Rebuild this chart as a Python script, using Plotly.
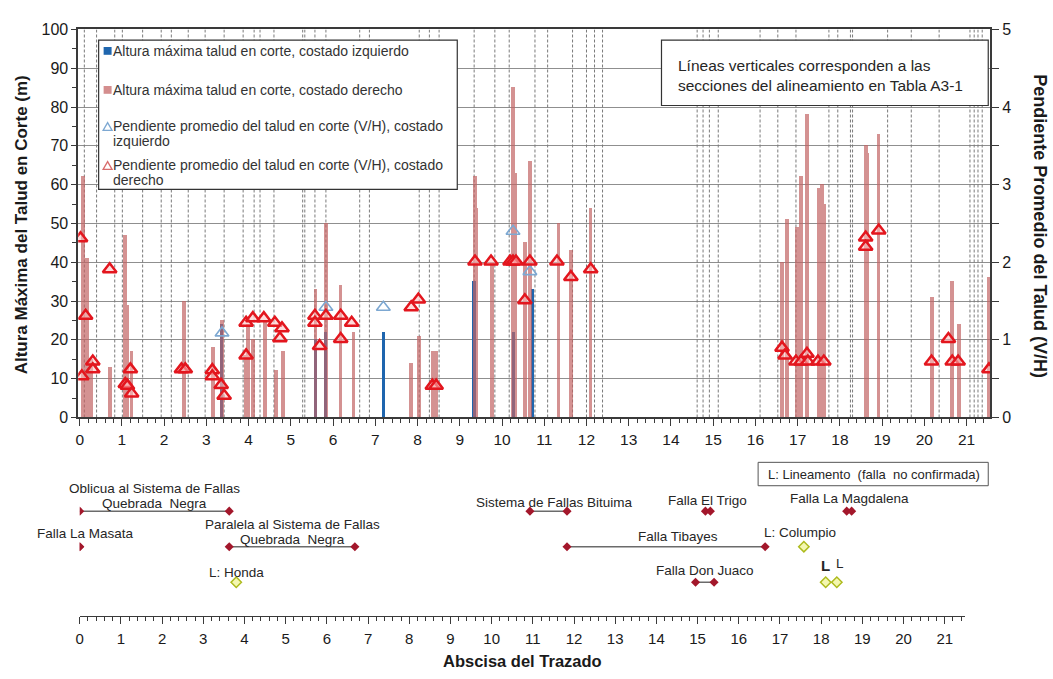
import plotly.graph_objects as go

W, H = 1053, 679
FONT = "Liberation Sans, Arial, sans-serif"
TXT = "#262626"

# Alignment section boundaries (km)
sections = [0.11, 0.40, 0.83, 1.01, 1.49, 1.93, 2.17, 2.57, 2.97, 3.42, 3.87, 4.13, 4.27,
            4.60, 5.28, 5.33, 5.57, 5.83, 6.63, 6.86, 8.04, 8.28, 8.51, 9.34, 9.83, 10.17,
            10.78, 11.08, 11.67, 12.00, 12.19, 12.38, 14.62, 14.76, 14.91, 15.12, 16.11,
            16.53, 16.96, 17.74, 17.95, 18.25, 18.30, 19.13, 19.69, 20.35, 21.08, 21.18,
            21.27, 21.37]

# Maximum cut height, right side (m)
right_x = [0.09, 0.17, 0.28, 0.73, 1.08, 1.13, 1.23, 2.48, 3.16, 3.37, 3.94, 3.99, 4.10,
           4.39, 4.65, 4.81, 5.59, 5.83, 6.18, 6.49, 7.85, 8.04, 8.37, 8.44, 9.36, 9.39,
           9.76, 10.26, 10.31, 10.54, 10.66, 11.34, 11.63, 12.10, 16.63, 16.75, 16.98,
           17.08, 17.22, 17.24, 17.50, 17.59, 17.62, 18.63, 18.66, 18.92, 20.19, 20.66,
           20.83, 21.53]
right_h = [62, 41, 15, 13, 47, 29, 17, 30, 18, 25, 16, 24, 20, 25, 12, 17, 33, 50, 34, 22,
           14, 21, 17, 17, 62, 54, 40, 85, 63, 45, 66, 50, 43, 54, 40, 51, 49, 62, 78, 73,
           59, 60, 55, 70, 68, 73, 31, 35, 24, 36]

# Maximum cut height, left side (m)
left_x = [3.37, 5.59, 5.83, 7.19, 9.34, 10.28, 10.73]
left_h = [24, 20, 22, 22, 35, 22, 33]

# Average cut slope (V/H), right side
slope_r_x = [0.02, 0.14, 0.31, 0.31, 0.05, 0.71, 1.08, 1.13, 1.20, 1.23, 2.41, 2.50, 3.14,
             3.14, 3.35, 3.42, 3.94, 3.94, 4.10, 4.36, 4.62, 4.79, 4.74, 5.57, 5.57, 5.68,
             5.83, 6.18, 6.18, 6.44, 7.85, 8.02, 8.35, 8.44, 9.36, 9.74, 10.19, 10.26,
             10.33, 10.66, 10.54, 11.30, 11.63, 12.10, 16.63, 16.70, 16.96, 17.08, 17.22,
             17.24, 17.48, 17.62, 18.61, 18.61, 18.92, 20.17, 20.57, 20.66, 20.80, 21.53]
slope_r_v = [2.31, 1.31, 0.72, 0.62, 0.53, 1.91, 0.43, 0.41, 0.62, 0.31, 0.62, 0.62, 0.61,
             0.53, 0.42, 0.28, 0.80, 1.22, 1.28, 1.28, 1.22, 1.15, 1.02, 1.31, 1.22, 0.92,
             1.31, 1.31, 1.01, 1.22, 1.42, 1.52, 0.41, 0.41, 2.01, 2.01, 2.01, 2.01,
             2.01, 2.01, 1.51, 2.01, 1.81, 1.91, 0.90, 0.80, 0.72, 0.72, 0.82,
             0.72, 0.72, 0.72, 2.32, 2.20, 2.41, 0.72, 1.01, 0.72, 0.72, 0.62]

# Average cut slope (V/H), left side
slope_l_x = [3.37, 5.83, 7.19, 10.26, 10.66]
slope_l_v = [1.09, 1.42, 1.42, 2.40, 1.88]

# Faults crossing the alignment (km) and display row
fault_names = ["Falla La Masata", "Oblicua al Sistema de Fallas<br>Quebrada  Negra",
               "Paralela al Sistema de Fallas<br>Quebrada  Negra", "Sistema de Fallas Bituima",
               "Falla El Trigo", "Falla La Magdalena", "Falla Tibayes", "Falla Don Juaco"]
fault_start = [0.0, 0.0, 3.63, 10.93, 15.19, 18.62, 11.83, 14.95]
fault_end = [0.0, 3.63, 6.68, 11.83, 15.31, 18.74, 16.64, 15.40]
fault_row = [2, 1, 2, 1, 1, 1, 2, 3]

# Lineaments (unconfirmed faults)
lin_names = ["L: Honda", "L: Columpio", "L", "L"]
lin_x = [3.80, 17.58, 18.11, 18.38]
lin_row = [3, 2, 3, 3]

xticks = list(range(0, 22))


def PX(x):
    return x / W


def PY(y):
    return 1 - y / H


fig = go.Figure()

# Cut heights
fig.add_trace(go.Bar(x=left_x, y=left_h, width=0.075, marker=dict(color="#1F66AE", line_width=0),
                     xaxis="x", yaxis="y", showlegend=False))
fig.add_trace(go.Bar(x=right_x, y=right_h, width=0.09,
                     marker=dict(color="#C26464", line_width=0), opacity=0.7,
                     xaxis="x", yaxis="y", showlegend=False))

# Slopes on the secondary axis
fig.add_trace(go.Scatter(x=slope_l_x, y=slope_l_v, mode="markers", xaxis="x", yaxis="y2",
                         marker=dict(symbol="triangle-up-open", size=12, color="#7DA8D2",
                                     line=dict(width=1.6)),
                         showlegend=False))
fig.add_trace(go.Scatter(x=slope_r_x, y=slope_r_v, mode="markers", xaxis="x", yaxis="y2",
                         marker=dict(symbol="triangle-up", size=12, color="rgba(255,190,190,0.55)",
                                     line=dict(color="#E3161E", width=2.5)),
                         showlegend=False))

# Faults (lower panel)
for name, s, e, r in zip(fault_names, fault_start, fault_end, fault_row):
    fig.add_trace(go.Scatter(x=[s, e], y=[r, r], mode="lines+markers", xaxis="x2", yaxis="y3",
                             line=dict(color="#6b6b6b", width=1.5),
                             marker=dict(symbol="diamond", size=7, color="#A3172B"),
                             showlegend=False, hoverinfo="text", text=[name, name]))
fig.add_trace(go.Scatter(x=lin_x, y=lin_row, mode="markers", xaxis="x2", yaxis="y3",
                         marker=dict(symbol="diamond", size=8, color="#F4F7B0",
                                     line=dict(color="#AEBB1E", width=1.5)),
                         showlegend=False, text=lin_names, hoverinfo="text"))

shapes = []
# Section boundary lines
for s in sections:
    shapes.append(dict(type="line", xref="x", yref="y", x0=s, x1=s, y0=0, y1=100,
                       line=dict(color="#7a7a7a", width=1, dash="3px,2px"), layer="between"))

annotations = []


def text_lines(text, x, y, xref, yref, dx, dy, size, spacing, xanchor="center", color=TXT):
    """Place each line of a multi-line label separately, with a fixed line spacing (px)."""
    parts = text.split("<br>")
    n = len(parts)
    for i, p in enumerate(parts):
        off = (n - 1) / 2 * spacing - i * spacing
        annotations.append(dict(x=x, y=y, xref=xref, yref=yref, text=p, showarrow=False,
                                xshift=dx, yshift=dy + off, xanchor=xanchor, yanchor="middle",
                                font=dict(family=FONT, size=size, color=color)))


# Fault labels
fault_label_dx = [6, 0, 0, 6, 0, 0, 12, 0]
fault_label_dy = [13, 15, 15, 9, 11, 13, 10, 12]
for name, s, e, r, dx, dy in zip(fault_names, fault_start, fault_end, fault_row,
                                 fault_label_dx, fault_label_dy):
    text_lines(name, (s + e) / 2, r, "x2", "y3", dx, dy, 13.5, 15)

lin_label_dx = [0, -4, 0, 3]
lin_label_dy = [10, 14, 17, 19]
lin_bold = [False, False, True, False]
for name, x, r, dx, dy, b in zip(lin_names, lin_x, lin_row, lin_label_dx, lin_label_dy, lin_bold):
    annotations.append(dict(x=x, y=r, xref="x2", yref="y3", text=f"<b>{name}</b>" if b else name,
                            showarrow=False, xshift=dx, yshift=dy, yanchor="middle",
                            xanchor="center",
                            font=dict(family=FONT, size=15 if b else 13.5, color=TXT)))

# Lineament key box
shapes.append(dict(type="rect", xref="paper", yref="paper", x0=PX(757), x1=PX(988),
                   y0=PY(490), y1=PY(466), line=dict(color="#555", width=1), fillcolor="white"))
annotations.append(dict(x=PX(873), y=PY(478), xref="paper", yref="paper",
                        xanchor="center", yanchor="middle",
                        text="L: Lineamento  (falla  no confirmada)", showarrow=False,
                        font=dict(family=FONT, size=13, color=TXT)))

# Note box
shapes.append(dict(type="rect", xref="paper", yref="paper", x0=PX(660), x1=PX(988),
                   y0=PY(100), y1=PY(33), line=dict(color="#333", width=1.2), fillcolor="white"))
text_lines("Líneas verticales corresponden a las<br>secciones del alineamiento en Tabla A3-1",
           PX(675), PY(69), "paper", "paper", 0, 0, 15.5, 20, xanchor="left")

# Legend box
shapes.append(dict(type="rect", xref="paper", yref="paper", x0=PX(95), x1=PX(455),
                   y0=PY(186), y1=PY(33), line=dict(color="#333", width=1.2), fillcolor="white"))
shapes.append(dict(type="rect", xref="paper", yref="paper", x0=PX(100), x1=PX(108),
                   y0=PY(48), y1=PY(40), line_width=0, fillcolor="#1F66AE"))
shapes.append(dict(type="rect", xref="paper", yref="paper", x0=PX(100), x1=PX(108),
                   y0=PY(88), y1=PY(80), line_width=0, fillcolor="#D48E8E"))


def tri(cx, cy, color, w):
    return dict(type="path", xref="paper", yref="paper",
                path=(f"M{PX(cx - 4.5):.5f},{PY(cy + 3.5):.5f} L{PX(cx + 4.5):.5f},{PY(cy + 3.5):.5f} "
                      f"L{PX(cx):.5f},{PY(cy - 4.5):.5f} Z"),
                line=dict(color=color, width=w), fillcolor="white")


shapes.append(tri(104, 122, "#7DA8D2", 1.3))
shapes.append(tri(104, 162, "#D86C6C", 1.3))
legend_items = [("Altura máxima talud en corte, costado izquierdo", 44),
                ("Altura máxima talud en corte, costado derecho", 84),
                ("Pendiente promedio del talud en corte (V/H), costado<br>izquierdo", 128.5),
                ("Pendiente promedio del talud en corte (V/H), costado<br>derecho", 168.5)]
for t, y in legend_items:
    text_lines(t, PX(107), PY(y), "paper", "paper", 0, 0, 14, 15, xanchor="left", color="#333")

# Axis titles
annotations.append(dict(x=PX(18), y=PY(222), xref="paper", yref="paper", textangle=-90,
                        xanchor="center", yanchor="middle",
                        showarrow=False, text="<b>Altura Máxima del Talud en Corte (m)</b>",
                        font=dict(family=FONT, size=17, color="#1a1a1a")))
annotations.append(dict(x=PX(1040), y=PY(224), xref="paper", yref="paper", textangle=90,
                        xanchor="center", yanchor="middle",
                        showarrow=False, text="<b>Pendiente Promedio del Talud (V/H)</b>",
                        font=dict(family=FONT, size=18, color="#1a1a1a")))
annotations.append(dict(x=PX(520), y=PY(670), xref="paper", yref="paper",
                        xanchor="center", yanchor="middle", borderpad=0,
                        showarrow=False, text="<b>Abscisa del Trazado</b>",
                        font=dict(family=FONT, size=16.5, color="#1a1a1a")))

axis_line = dict(showline=True, linecolor="#3a3a3a", linewidth=1.5, zeroline=False,
                 ticks="outside", tickcolor="#3a3a3a")

fig.update_layout(
    width=W, height=H, margin=dict(l=0, r=0, t=0, b=0),
    paper_bgcolor="white", plot_bgcolor="white",
    barmode="overlay", bargap=0,
    font=dict(family=FONT, color=TXT),
    xaxis=dict(domain=[74.5 / W, 990 / W], range=[-0.035, 21.56], anchor="y",
               tickvals=xticks, ticklen=7, tickfont=dict(size=15.5, color="#1a1a1a"),
               mirror=True, showgrid=False,
               minor=dict(dtick=0.2, tick0=0, ticks="outside", ticklen=4, tickcolor="#3a3a3a"),
               **axis_line),
    yaxis=dict(domain=[PY(420), PY(22)], range=[0, 100], dtick=10, ticklen=5,
               tickfont=dict(size=16, color="#1a1a1a"), showgrid=True, gridcolor="#8f8f8f",
               gridwidth=1, minor=dict(dtick=5, ticks="outside", ticklen=4, tickcolor="#3a3a3a"),
               **axis_line),
    yaxis2=dict(overlaying="y", side="right", range=[0, 5], dtick=1, ticklen=7,
                tickfont=dict(size=16, color="#1a1a1a"), showgrid=False,
                minor=dict(dtick=0.5, ticks="outside", ticklen=7, tickcolor="#3a3a3a"),
                **axis_line),
    xaxis2=dict(domain=[76 / W, 965 / W], range=[0, 21.5], anchor="y3",
                tickvals=xticks, ticklen=7, ticklabelstandoff=2,
                tickfont=dict(size=15, color="#1a1a1a"),
                showgrid=False,
                minor=dict(dtick=0.2, tick0=0, ticks="outside", ticklen=4, tickcolor="#3a3a3a"),
                showline=True, linecolor="#3a3a3a", linewidth=1.2, zeroline=False,
                ticks="outside", tickcolor="#3a3a3a"),
    yaxis3=dict(domain=[PY(624), PY(461)], range=[3.96, -0.51], visible=False),
    shapes=shapes, annotations=annotations,
)

fig.write_html("out.html")
